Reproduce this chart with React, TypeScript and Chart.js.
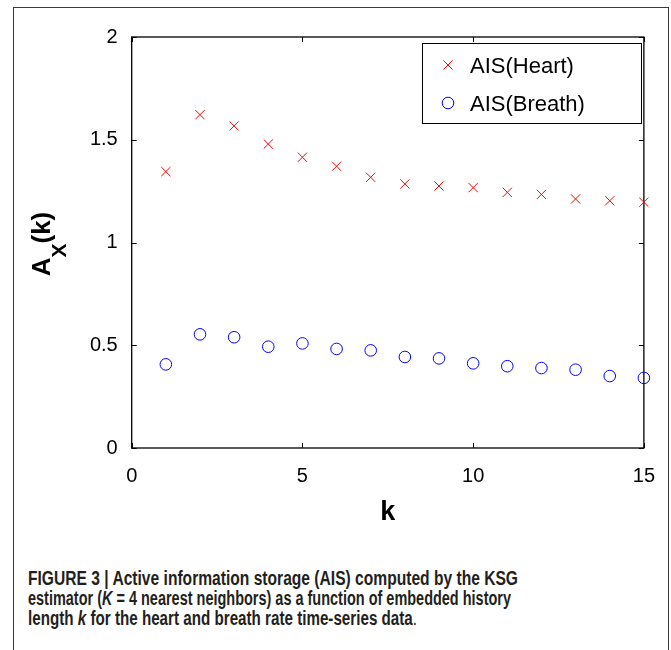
import React, { useEffect, useRef } from 'react';
import { Chart, registerables } from 'chart.js';

Chart.register(...registerables);

// ---- data ----
const kValues = [1, 2, 3, 4, 5, 6, 7, 8, 9, 10, 11, 12, 13, 14, 15];
const heartAIS = [1.345, 1.622, 1.567, 1.479, 1.415, 1.371, 1.317, 1.285, 1.275, 1.267, 1.244, 1.234, 1.212, 1.203, 1.196];
const breathAIS = [0.407, 0.553, 0.539, 0.493, 0.509, 0.482, 0.475, 0.443, 0.436, 0.412, 0.398, 0.389, 0.381, 0.350, 0.341];
const xTicks = [0, 5, 10, 15];
const yTicks = [0, 0.5, 1, 1.5, 2];
const seriesLabels = ['AIS(Heart)', 'AIS(Breath)'];

const FONT = '"Liberation Sans", Arial, Helvetica, sans-serif';
const HEART_COLOR = '#ff0000';
const BREATH_COLOR = '#0000ff';
const AREA = { left: 131.7, right: 648, top: 37, bottom: 448 };

const decorPlugin = {
  id: 'decor',
  beforeDatasetsDraw(chart: any) {
    const { ctx, chartArea: a, scales } = chart;
    ctx.save();
    ctx.strokeStyle = '#000';
    ctx.lineWidth = 1.3;
    ctx.strokeRect(a.left, a.top, a.right - a.left, a.bottom - a.top);
    ctx.lineWidth = 1;
    const tl = 5;
    ctx.beginPath();
    xTicks.forEach((v) => {
      const x = Math.round(scales.x.getPixelForValue(v)) + 0.5;
      ctx.moveTo(x, a.bottom);
      ctx.lineTo(x, a.bottom - tl);
      ctx.moveTo(x, a.top);
      ctx.lineTo(x, a.top + tl);
    });
    yTicks.forEach((v) => {
      const y = Math.round(scales.y.getPixelForValue(v)) + 0.5;
      ctx.moveTo(a.left, y);
      ctx.lineTo(a.left + tl, y);
      ctx.moveTo(a.right, y);
      ctx.lineTo(a.right - tl, y);
    });
    ctx.stroke();
    ctx.restore();
  },
  afterDraw(chart: any) {
    const { ctx, chartArea: a } = chart;
    ctx.save();
    // legend
    const lx = 422.5, ly = 43.5, lw = 219, lh = 80;
    ctx.fillStyle = '#fff';
    ctx.fillRect(lx, ly, lw, lh);
    ctx.strokeStyle = '#000';
    ctx.lineWidth = 1;
    ctx.strokeRect(lx, ly, lw, lh);
    const mx = 448;
    const rows = [65, 103];
    ctx.strokeStyle = HEART_COLOR;
    ctx.beginPath();
    const d = 4.6;
    ctx.moveTo(mx - d, rows[0] - d);
    ctx.lineTo(mx + d, rows[0] + d);
    ctx.moveTo(mx + d, rows[0] - d);
    ctx.lineTo(mx - d, rows[0] + d);
    ctx.stroke();
    ctx.strokeStyle = BREATH_COLOR;
    ctx.beginPath();
    ctx.arc(mx, rows[1], 5.8, 0, Math.PI * 2);
    ctx.stroke();
    ctx.fillStyle = '#000';
    ctx.font = `22px ${FONT}`;
    ctx.textAlign = 'left';
    ctx.textBaseline = 'alphabetic';
    ctx.fillText(seriesLabels[0], 470, rows[0] + 8);
    ctx.fillText(seriesLabels[1], 470, rows[1] + 8);

    // x axis title
    ctx.font = `bold 27px ${FONT}`;
    ctx.textAlign = 'center';
    ctx.fillText('k', (a.left + a.right) / 2, 520);

    // y axis title A_X(k)
    const mainFont = `bold 26px ${FONT}`;
    const subFont = `bold 21px ${FONT}`;
    ctx.font = mainFont;
    const wA = ctx.measureText('A').width;
    const wK = ctx.measureText('(k)').width;
    ctx.font = subFont;
    const wX = ctx.measureText('X').width;
    const total = wA + wX + wK;
    const cy = 244;
    ctx.translate(50, cy + total / 2);
    ctx.rotate(-Math.PI / 2);
    ctx.textAlign = 'left';
    ctx.font = mainFont;
    ctx.fillText('A', 0, 0);
    ctx.font = subFont;
    ctx.fillText('X', wA, 15.5);
    ctx.font = mainFont;
    ctx.fillText('(k)', wA + wX, 0);
    ctx.restore();
  },
};

function ChartCanvas() {
  const ref = useRef<HTMLCanvasElement | null>(null);
  useEffect(() => {
    if (!ref.current) return;
    const padding = { top: AREA.top, right: 671 - AREA.right, left: 0, bottom: 32 };
    const chart = new Chart(ref.current, {
      type: 'scatter',
      data: {
        datasets: [
          {
            label: seriesLabels[0],
            data: kValues.map((k, i) => ({ x: k, y: heartAIS[i] })),
            pointStyle: 'crossRot',
            pointRadius: 6.5,
            pointHoverRadius: 6.5,
            borderColor: HEART_COLOR,
            backgroundColor: 'transparent',
            borderWidth: 1,
            clip: false as any,
          },
          {
            label: seriesLabels[1],
            data: kValues.map((k, i) => ({ x: k, y: breathAIS[i] })),
            pointStyle: 'circle',
            pointRadius: 5.8,
            pointHoverRadius: 5.8,
            borderColor: BREATH_COLOR,
            backgroundColor: 'transparent',
            borderWidth: 1,
            clip: false as any,
          },
        ],
      },
      options: {
        responsive: false,
        animation: false,
        events: [],
        layout: { padding },
        plugins: { legend: { display: false }, tooltip: { enabled: false } },
        scales: {
          x: {
            type: 'linear',
            min: 0,
            max: 15,
            afterBuildTicks: (s: any) => {
              s.ticks = xTicks.map((v) => ({ value: v }));
            },
            afterFit: (s: any) => {
              s.height = 60;
            },
            ticks: {
              font: { family: FONT, size: 20 },
              color: '#000',
              padding: 16,
              maxRotation: 0,
              autoSkip: false,
              callback: (v: any) => String(v),
            },
            grid: { display: false, drawTicks: false },
            border: { display: false },
          },
          y: {
            type: 'linear',
            min: 0,
            max: 2,
            afterBuildTicks: (s: any) => {
              s.ticks = yTicks.map((v) => ({ value: v }));
            },
            afterFit: (s: any) => {
              s.width = 131.7;
            },
            ticks: {
              font: { family: FONT, size: 20 },
              color: '#000',
              padding: 14,
              autoSkip: false,
              callback: (v: any) => String(v),
            },
            grid: { display: false, drawTicks: false },
            border: { display: false },
          },
        },
      },
      plugins: [decorPlugin],
    } as any);
    // nudge layout so the plot area lands exactly on the reference frame
    for (let i = 0; i < 2; i++) {
      const ca = chart.chartArea;
      const dr = ca.right - AREA.right;
      const dl = AREA.left - ca.left;
      const dt = AREA.top - ca.top;
      const db = ca.bottom - AREA.bottom;
      if (Math.abs(dr) + Math.abs(dl) + Math.abs(dt) + Math.abs(db) < 0.2) break;
      padding.right += dr;
      padding.left += dl;
      padding.top += dt;
      padding.bottom += db;
      (chart.options as any).layout.padding = { ...padding };
      chart.update();
    }
    return () => chart.destroy();
  }, []);
  return (
    <canvas
      ref={ref}
      width={671}
      height={540}
      style={{ position: 'absolute', left: 0, top: 0, width: 671, height: 540 }}
    />
  );
}

const captionTargets = [490, 483, 389];

function Caption() {
  const r0 = useRef<HTMLSpanElement | null>(null);
  const r1 = useRef<HTMLSpanElement | null>(null);
  const r2 = useRef<HTMLSpanElement | null>(null);
  useEffect(() => {
    [r0, r1, r2].forEach((r, i) => {
      const el = r.current;
      if (!el) return;
      el.style.transform = 'none';
      const w = el.getBoundingClientRect().width;
      if (w > 0) el.style.transform = `scaleX(${captionTargets[i] / w})`;
    });
  }, []);
  const lineStyle: React.CSSProperties = {
    display: 'inline-block',
    whiteSpace: 'nowrap',
    transformOrigin: '0 0',
  };
  return (
    <div
      style={{
        position: 'absolute',
        left: 28,
        top: 568,
        fontFamily: '"Liberation Sans Narrow", "Arial Narrow", "Liberation Sans", Arial, sans-serif',
        fontWeight: 'bold',
        fontSize: 20,
        lineHeight: '20px',
        color: '#231f20',
      }}
    >
      <div style={{ height: 20 }}>
        <span ref={r0} style={lineStyle}>FIGURE 3 | Active information storage (AIS) computed by the KSG</span>
      </div>
      <div style={{ height: 20 }}>
        <span ref={r1} style={lineStyle}>
          estimator (<i>K</i> = 4 nearest neighbors) as a function of embedded history
        </span>
      </div>
      <div style={{ height: 20 }}>
        <span ref={r2} style={lineStyle}>
          length <i>k</i> for the heart and breath rate time-series data<span style={{ fontWeight: 'normal' }}>.</span>
        </span>
      </div>
    </div>
  );
}

export default function App() {
  return (
    <div
      style={{
        position: 'absolute',
        left: 0,
        top: 0,
        width: 671,
        height: 650,
        background: '#fff',
        overflow: 'hidden',
      }}
    >
      <div
        style={{
          position: 'absolute',
          left: 13,
          top: 6.5,
          width: 655.5,
          height: 700,
          boxSizing: 'border-box',
          border: '1.5px solid #3a3a3a',
        }}
      />
      <ChartCanvas />
      <Caption />
    </div>
  );
}
